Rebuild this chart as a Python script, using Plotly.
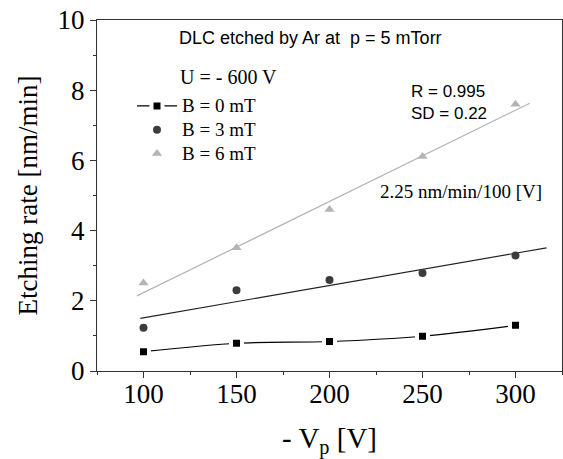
import plotly.graph_objects as go

# ---- data ----
vp = [100, 150, 200, 250, 300]
rate_b0 = [0.55, 0.79, 0.84, 0.99, 1.30]
rate_b3 = [1.23, 2.30, 2.59, 2.79, 3.29]
rate_b6 = [2.51, 3.51, 4.60, 6.11, 7.60]

fit_b3_x = [98.3, 316.7]
fit_b3_y = [1.50, 3.51]
fit_b6_x = [96.5, 307.7]
fit_b6_y = [2.14, 7.63]

x_ticks = [100, 150, 200, 250, 300]
y_ticks = [0, 2, 4, 6, 8, 10]

series_names = ["B = 0 mT", "B = 3 mT", "B = 6 mT"]

SERIF = "Liberation Serif, Times New Roman, serif"
SANS = "Liberation Sans, Arial, sans-serif"

W, H = 563, 459
PL, PR, PT, PB = 97, 562, 20, 371   # plot area in window pixels


def legend_name(s):
    return "<span style='font-size:19px'>" + s + "</span>"


fig = go.Figure()

fig.add_trace(go.Scatter(
    x=fit_b6_x, y=fit_b6_y, mode="lines",
    line=dict(color="#b4b4b4", width=1.2), showlegend=False, hoverinfo="skip"))
fig.add_trace(go.Scatter(
    x=fit_b3_x, y=fit_b3_y, mode="lines",
    line=dict(color="#222222", width=1.2), showlegend=False, hoverinfo="skip"))

fig.add_trace(go.Scatter(
    x=vp, y=rate_b0, mode="lines+markers", name=legend_name(series_names[0]),
    line=dict(color="#000000", width=1.2, shape="spline", smoothing=0.8),
    marker=dict(symbol="square", size=11, color="#000000",
                line=dict(color="white", width=4))))
fig.add_trace(go.Scatter(
    x=vp, y=rate_b3, mode="markers", name=legend_name(series_names[1]),
    marker=dict(symbol="circle", size=8, color="#3c3c3c")))
fig.add_trace(go.Scatter(
    x=vp, y=rate_b6, mode="markers", name=legend_name(series_names[2]),
    marker=dict(symbol="triangle-up", size=9, color="#b4b4b4")))


def px_x(px):
    return (px - PL) / float(PR - PL)


def px_y(py):
    return (PB - py) / float(PB - PT)


annos = [
    ("DLC etched by Ar at&nbsp;&nbsp;p = 5 mTorr", 176.7, 38.3, SANS, 18),
    ("U = - 600 V", 177.7, 76.7, SERIF, 20),
    ("R = 0.995", 409.3, 91.7, SANS, 17),
    ("SD = 0.22", 409.3, 113.3, SANS, 17),
    ("2.25 nm/min/100 [V]", 377.7, 191.7, SERIF, 19),
]
for text, ax_, ay_, fam, sz in annos:
    fig.add_annotation(
        x=px_x(ax_), y=px_y(ay_), xref="paper", yref="paper",
        xanchor="left", yanchor="middle", text=text, showarrow=False,
        font=dict(family=fam, size=sz, color="#000000"))

axis_common = dict(
    showline=True, linecolor="#333333", linewidth=1, mirror=True,
    ticks="outside", ticklen=6, tickwidth=1, tickcolor="#333333",
    showgrid=False, zeroline=False, automargin=False,
    ticklabeloverflow="allow",
    tickfont=dict(family=SERIF, size=27, color="#000000"),
)

fig.update_xaxes(
    range=[75, 325], tickmode="array", tickvals=x_ticks,
    ticktext=[str(v) for v in x_ticks],
    ticklabelstandoff=-7,
    minor=dict(tickvals=[75, 125, 175, 225, 275, 325], ticklen=3,
               ticks="outside", tickcolor="#333333"),
    title=dict(text="- V<sub>p</sub> [V]", standoff=26,
               font=dict(family=SERIF, size=29, color="#000000")),
    **axis_common)
fig.update_yaxes(
    range=[0, 10], tickmode="array", tickvals=y_ticks,
    ticktext=[str(v) for v in y_ticks],
    minor=dict(tickvals=[1, 3, 5, 7, 9], ticklen=3,
               ticks="outside", tickcolor="#333333"),
    title=dict(text="Etching rate [nm/min]", standoff=12,
               font=dict(family=SERIF, size=27, color="#000000")),
    **axis_common)

fig.update_layout(
    width=W, height=H,
    margin=dict(l=PL, r=W - PR, t=PT, b=H - PB, autoexpand=False),
    paper_bgcolor="white", plot_bgcolor="white",
    showlegend=True,
    legend=dict(x=px_x(132), y=px_y(89), xanchor="left", yanchor="top",
                bgcolor="rgba(0,0,0,0)", borderwidth=0,
                itemwidth=40,
                font=dict(family=SERIF, size=16, color="#000000")),
)

# remove the browser's default 8 px body margin so the figure fills the window
fig.write_html(
    "out.html",
    config={"displayModeBar": False},
    post_script="document.body.style.margin='0';document.body.style.overflow='hidden';")
